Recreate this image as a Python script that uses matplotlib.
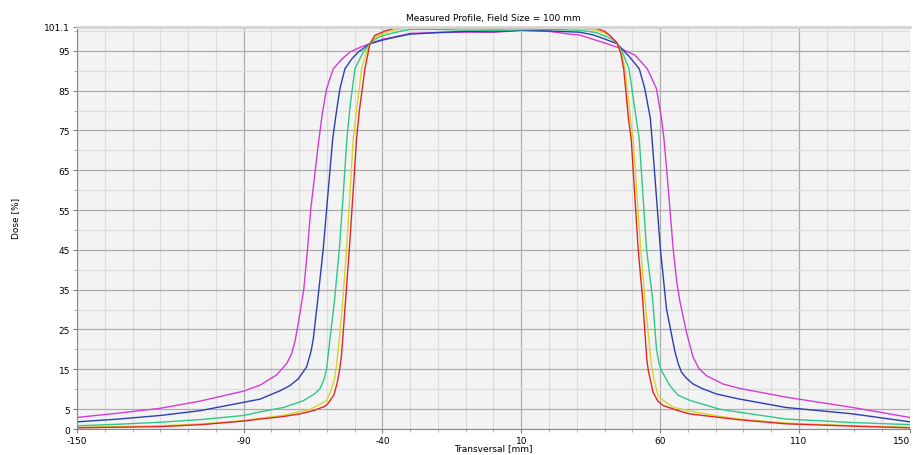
import numpy as np
import matplotlib
matplotlib.use("Agg")
import matplotlib.pyplot as plt
from matplotlib.ticker import FixedLocator, MultipleLocator


# Profils mesurés (dose relative en % selon la position transversale en mm)

x_magenta = [-150, -135, -120, -105.7, -90.1, -84.1, -78.1, -74.5, -72.7, -71.5, -70.3, -68.3, -67, -65.8,
             -64.5, -63.3, -61.7, -60.1, -57.7, -54.5, -51.7, -48, -44.5, -40, -35, -30, -20, -10, 0, 10,
             20, 27.5, 31, 35.9, 40, 45.5, 51, 55.4, 58.7, 60.5, 61.4, 63, 64.7, 66, 67.1, 69.5, 71.9,
             74, 76.7, 82.7, 88.7, 105.4, 129.4, 150]
dose_magenta = [2.9, 4.0, 5.2, 7.0, 9.5, 11.0, 13.6, 16.4, 18.9, 22.0, 26.5, 35.2, 45, 55.3,
                63, 70.4, 79, 85.5, 90.5, 93, 94.7, 95.9, 96.8, 97.9, 98.6, 99.4, 99.6, 99.7, 99.7, 100.1,
                99.9, 99.2, 99.0, 97.9, 97.0, 95.7, 93.9, 90.5, 85.5, 78, 72.9, 60, 45.3, 37, 32.2, 24.3, 18.0,
                15.2, 13.4, 11.3, 10.2, 8.0, 5.4, 2.9]

x_bleu = [-150, -135, -120, -105.7, -90, -84.1, -81.7, -76.9, -73.3, -70.3, -67.3, -65.7, -64.9, -63.2,
          -61.3, -59.5, -57.9, -56.5, -55.3, -53.5, -51, -48.7, -44.5, -40, -35, -30, -20, -10, 0, 10, 20,
          31, 36, 40, 44.5, 49, 52.5, 54.5, 56.5, 57.1, 60.1, 62.3, 65.3, 66.5, 67.7, 69.4, 71.9, 75.4,
          80.3, 88, 105.4, 129.4, 150]
dose_bleu = [1.8, 2.5, 3.4, 4.6, 6.7, 7.5, 8.2, 9.6, 10.9, 12.6, 15.6, 19.5, 22.6, 33,
             45.3, 60, 72.9, 80, 85.5, 90.5, 93, 94.7, 96.8, 97.7, 98.5, 99.2, 99.6, 99.9, 99.8, 100.2, 100.0,
             99.7, 99.0, 98.0, 96.8, 93.5, 90.5, 85.5, 78, 72.9, 45.3, 30.2, 19.6, 16.5, 14.3, 12.8, 11.3, 10.1,
             8.8, 7.6, 5.4, 3.8, 1.8]

x_vert = [-150, -135, -120, -105, -90, -84.1, -75.7, -68.5, -64.5, -62.5, -61, -60.1, -58.9, -57.3,
          -55.5, -54.1, -52.8, -51.5, -49.9, -46.9, -44.5, -42, -40, -35, -30, -20, -10, 0, 10, 20, 31,
          37, 42, 44.5, 46.5, 48.8, 51.4, 52.5, 55.1, 57.3, 58.7, 59.6, 60.5, 63.5, 66.5, 70.7, 81.4,
          88.7, 105.4, 130, 150]
dose_vert = [0.8, 1.2, 1.7, 2.4, 3.4, 4.3, 5.4, 7.1, 8.8, 10.1, 12.5, 15.1, 22.6, 32,
             45.3, 59, 72.9, 82, 90.5, 94.7, 96.8, 98.2, 98.8, 99.7, 100.4, 100.4, 100.2, 100.1, 100.3, 100.4, 100.2,
             99.6, 98.2, 97.0, 94.5, 90.5, 78, 72.9, 45.3, 32.7, 20.1, 16.5, 14.7, 10.9, 8.5, 7.2, 5.0,
             4.2, 2.5, 1.6, 1.1]

x_jaune = [-150, -120, -105, -90, -84.1, -76, -66.1, -60.1, -58.6, -57.3, -56.5, -55.5, -54.3, -52.9,
           -51.7, -50.5, -49.3, -47.5, -45.6, -44.5, -42.5, -39, -35, -30, -20, -10, 0, 10, 20, 31, 37,
           40, 42, 44.5, 46, 47.4, 49.3, 50.3, 53, 54.5, 55.6, 56.9, 57.6, 59.3, 61.5, 64.7, 70, 81.4,
           88.7, 105.4, 130, 150]
dose_jaune = [0.4, 0.8, 1.3, 2.1, 2.7, 3.4, 4.9, 7.1, 9.5, 12.5, 16, 22.6, 32, 45.3,
              59, 72.9, 80, 90.5, 95, 96.8, 98.4, 99.6, 100.3, 100.8, 100.8, 100.5, 100.4, 100.5, 100.7, 100.6, 100.2,
              99.5, 98.7, 97.0, 94.5, 90.5, 78, 72.9, 45.3, 32.7, 25, 15.9, 13, 8.4, 7.0, 5.5, 4.6, 3.2,
              2.5, 1.5, 0.8, 0.4]

x_rouge = [-150, -120, -105, -90, -84.1, -76, -69.7, -64.9, -60.7, -59.5, -57.5, -56.3, -55.5, -54.8,
           -54.3, -53.3, -51.9, -50.6, -49.3, -48.3, -46.3, -44.5, -42.7, -39, -35, -30, -25, -20, -10, 0,
           10, 20, 31, 37.2, 40, 41.9, 44.5, 45.8, 46.9, 48.6, 49.6, 52.1, 53.7, 55.2, 55.8, 57.5, 59.2,
           61.1, 67, 70.7, 81.4, 88.7, 105.4, 130, 150]
dose_rouge = [0.3, 0.6, 1.1, 2.0, 2.5, 3.1, 3.8, 4.6, 5.7, 6.5, 8.5, 11.5, 14.5, 18,
              22.6, 32, 45.3, 59, 72.9, 80, 90.5, 96.8, 98.9, 100.0, 100.8, 101.0, 101.1, 100.9, 100.7, 100.6,
              100.7, 100.9, 100.9, 100.6, 99.9, 98.9, 97.0, 94.5, 90.5, 78, 72.9, 45.3, 32.7, 17.6, 14.5, 9.2, 7.0,
              5.9, 4.5, 3.8, 2.9, 2.3, 1.3, 0.7, 0.3]

profils = [
    (x_magenta, dose_magenta, '#d43cd4'),
    (x_bleu, dose_bleu, '#2b3fb2'),
    (x_vert, dose_vert, '#2ec987'),
    (x_jaune, dose_jaune, '#d6d62a'),
    (x_rouge, dose_rouge, '#e1262b'),
]

xticks = [-150, -90, -40, 10, 60, 110, 150]
yticks = [0, 5, 15, 25, 35, 45, 55, 65, 75, 85, 95, 101.1]
yticklabels = ['0', '5', '15', '25', '35', '45', '55', '65', '75', '85', '95', '101.1']


# Graphique

plt.rcParams['font.family'] = ['DejaVu Sans']
plt.rcParams['axes.unicode_minus'] = False
fig = plt.figure(figsize=(9.13, 4.56), dpi=100)
ax = fig.add_axes([0.0843, 0.057, 0.9124, 0.8825])
ax.set_facecolor('#f3f3f3')

for x, d, c in profils:
    ax.plot(x, d, color=c, lw=1.0)

ax.set_xlim(-150, 150)
ax.set_ylim(0, 101.1)

ax.xaxis.set_major_locator(FixedLocator(xticks))
ax.xaxis.set_minor_locator(MultipleLocator(10))
ax.yaxis.set_major_locator(FixedLocator(yticks))
ax.yaxis.set_minor_locator(FixedLocator(np.arange(10, 101, 10)))
ax.set_yticklabels(yticklabels)

ax.grid(which='major', color='#adadad', lw=0.9)
ax.grid(which='minor', color='#dedede', lw=0.9)
ax.set_axisbelow(True)

ax.tick_params(which='major', length=3, color='#808080', labelsize=6.5, pad=2)
ax.tick_params(which='minor', length=2, color='#a0a0a0')

# dernier libellé calé à droite pour rester dans la figure
ax.get_xticklabels()[-1].set_horizontalalignment('right')

ax.spines['right'].set_visible(False)
ax.spines['top'].set_color('#d4d4d4')
ax.spines['top'].set_linewidth(2)
ax.spines['left'].set_color('#8a8a8a')
ax.spines['bottom'].set_color('#8a8a8a')

ax.set_title('Measured Profile, Field Size = 100 mm', fontsize=6.5, pad=5)
ax.set_xlabel('Transversal [mm]', fontsize=6.5, labelpad=-1)
fig.text(0.017, 0.52, 'Dose [%]', rotation=90, fontsize=6.5, va='center', ha='center')

fig.savefig('out.png', dpi=100)
